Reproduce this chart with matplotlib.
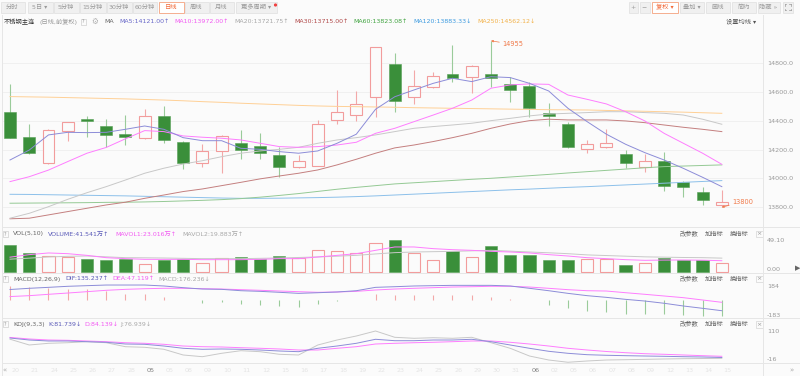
import numpy as np
import matplotlib.pyplot as plt
from matplotlib.patches import Rectangle, Circle

plt.rcParams['font.family'] = ['DejaVu Sans', 'Noto Sans CJK SC']
plt.rcParams['font.size'] = 4.5

W, H = 800, 376
BG = '#fbfbfb'

# ---- price data (daily candles) ----
opens = [14463, 14290, 14105, 14329, 14411, 14364, 14309, 14279, 14434, 14255,
         14110, 14191, 14248, 14228, 14165, 14078, 14089, 14406, 14438, 14563,
         14792, 14563, 14633, 14727, 14706, 14727, 14656, 14644, 14457, 14378,
         14205, 14216, 14172, 14078, 14123, 13978, 13904, 13816]
highs = [14653, 14376, 14340, 14395, 14434, 14413, 14440, 14482, 14503, 14258,
         14237, 14300, 14336, 14313, 14216, 14163, 14406, 14614, 14607, 14915,
         14869, 14753, 14737, 14926, 14785, 14955, 14706, 14672, 14522, 14390,
         14267, 14341, 14198, 14168, 14186, 13980, 13943, 13920]
lows = [14280, 14167, 14100, 14260, 14290, 14216, 14232, 14272, 14244, 14068,
        14078, 14040, 14133, 14133, 14012, 14071, 14085, 14376, 14399, 14427,
        14463, 14515, 14628, 14672, 14591, 14637, 14533, 14429, 14364, 14210,
        14175, 14214, 14071, 14043, 13915, 13874, 13816, 13800]
closes = [14283, 14175, 14336, 14390, 14401, 14302, 14288, 14434, 14267, 14110,
          14191, 14297, 14197, 14179, 14082, 14119, 14378, 14459, 14515, 14910,
          14536, 14644, 14711, 14699, 14783, 14695, 14614, 14491, 14434, 14216,
          14237, 14244, 14110, 14123, 13950, 13939, 13851, 13835]

ma5 = [14128, 14197, 14302, 14320, 14318, 14320, 14341, 14364, 14341, 14283,
       14262, 14262, 14209, 14202, 14186, 14175, 14191, 14244, 14307, 14480,
       14567, 14614, 14660, 14695, 14672, 14706, 14700, 14660, 14607, 14487,
       14394, 14307, 14237, 14179, 14128, 14070, 14008, 13943]
ma10 = [13978, 14012, 14058, 14117, 14175, 14215, 14275, 14332, 14325, 14295,
        14286, 14279, 14267, 14244, 14221, 14216, 14221, 14232, 14251, 14313,
        14348, 14394, 14440, 14487, 14544, 14626, 14649, 14656, 14653, 14579,
        14549, 14517, 14463, 14399, 14313, 14244, 14175, 14098]
ma20 = [13724, 13758, 13804, 13855, 13901, 13943, 13989, 14036, 14071, 14100,
        14123, 14151, 14175, 14191, 14202, 14216, 14244, 14267, 14283, 14302,
        14325, 14348, 14360, 14371, 14383, 14401, 14417, 14434, 14447, 14452,
        14457, 14463, 14463, 14457, 14452, 14440, 14411, 14376]
ma30 = [13720, 13724, 13747, 13770, 13793, 13816, 13835, 13862, 13885, 13909,
        13927, 13950, 13973, 13997, 14017, 14036, 14059, 14094, 14133, 14175,
        14212, 14232, 14256, 14283, 14313, 14348, 14378, 14401, 14411, 14406,
        14406, 14406, 14399, 14387, 14371, 14355, 14341, 14325]
ma60 = [13828, 13829, 13830, 13831, 13832, 13834, 13835, 13837, 13840, 13844,
        13848, 13853, 13860, 13870, 13882, 13895, 13910, 13925, 13938, 13950,
        13962, 13970, 13978, 13986, 13994, 14001, 14010, 14019, 14028, 14038,
        14047, 14056, 14065, 14074, 14082, 14086, 14090, 14094]
ma120 = [13890, 13889, 13887, 13885, 13883, 13881, 13879, 13876, 13873, 13870,
         13867, 13864, 13862, 13862, 13863, 13865, 13867, 13870, 13874, 13879,
         13885, 13891, 13897, 13903, 13909, 13915, 13921, 13926, 13932, 13938,
         13943, 13949, 13955, 13961, 13967, 13973, 13979, 13985]
ma250 = [14568, 14566, 14564, 14561, 14558, 14555, 14552, 14548, 14544, 14539,
         14533, 14528, 14522, 14517, 14512, 14507, 14503, 14500, 14498, 14496,
         14494, 14491, 14489, 14487, 14485, 14483, 14481, 14479, 14477, 14476,
         14475, 14472, 14469, 14466, 14463, 14460, 14456, 14452]

# ---- volume (万) ----
volume = [41.54, 29.5, 24.3, 23.3, 20.7, 19.1, 20.7, 12.9, 18.1, 20.7,
          14.5, 22.2, 23.3, 19.6, 24.8, 22.2, 34.6, 32.6, 30.0, 45.5,
          49.1, 30.0, 19.1, 32.0, 23.3, 40.3, 26.9, 25.8, 19.1, 19.1,
          20.7, 20.7, 10.3, 14.5, 21.7, 18.1, 18.1, 14.5]
mavol1 = [23.0, 26.9, 29.5, 28.4, 25.8, 22.2, 20.7, 19.6, 19.6, 19.6,
          19.1, 19.1, 19.1, 19.6, 20.7, 20.7, 23.3, 25.8, 28.4, 33.6,
          38.8, 38.8, 36.2, 34.6, 33.6, 32.0, 31.0, 29.5, 26.9, 24.8,
          22.2, 20.7, 19.1, 18.1, 18.5, 18.6, 18.3, 17.5]
mavol2 = [19.9, 21.5, 23.3, 24.3, 24.8, 23.5, 22.2, 22.0, 21.7, 21.2,
          20.7, 20.7, 20.7, 21.2, 21.7, 22.5, 23.3, 24.5, 25.8, 28.0,
          30.0, 31.0, 31.5, 32.0, 32.8, 33.6, 32.3, 31.0, 29.8, 28.4,
          26.5, 25.5, 24.5, 23.5, 23.0, 22.5, 22.2, 21.5]

# ---- MACD ----
dif = [135, 150, 162, 175, 183, 191, 191, 191, 179, 158,
       141, 137, 120, 112, 100, 87, 95, 104, 120, 162,
       170, 179, 183, 187, 187, 187, 179, 150, 120, 87,
       58, 37, 12, -9, -37, -71, -100, -130]
dea = [47, 58, 75, 91, 108, 125, 137, 145, 150, 150,
       145, 141, 133, 125, 116, 108, 100, 104, 112, 129,
       141, 150, 158, 166, 170, 175, 175, 166, 150, 133,
       120, 116, 95, 75, 54, 33, 4, -25]
macd_bar = [176, 167, 154, 146, 137, 112, 83, 83, 42, 8,
            -33, -25, -42, -54, -75, -83, -50, -4, 8, 83,
            62, 62, 71, 62, 62, 42, 21, 8, -54, -100,
            -130, -150, -165, -172, -170, -183, -193, -200]

# ---- KDJ ----
k_line = [81.7, 73.7, 69.7, 69.7, 66.9, 64.5, 57.6, 56.4, 49.5, 40.3,
          36.3, 37.5, 36.3, 33.4, 29.4, 26.6, 40.3, 49.5, 60.4, 76.6,
          70.9, 70.9, 73.7, 73.7, 76.6, 66.9, 53.6, 40.3, 28.2, 20.1,
          14.5, 12.1, 10.5, 9.2, 8.0, 6.4, 5.2, 3.2]
d_line = [84.1, 77.8, 73.7, 72.5, 69.7, 66.9, 62.8, 60.4, 56.4, 49.5,
          46.7, 45.5, 42.7, 40.3, 37.5, 33.4, 33.4, 40.3, 46.7, 57.6,
          60.4, 62.8, 64.5, 66.9, 69.7, 69.7, 64.5, 57.6, 49.5, 40.3,
          33.4, 27.4, 22.5, 18.5, 16.1, 13.3, 10.5, 8.0]
j_line = [76.9, 53.6, 60.4, 62.8, 66.9, 62.8, 46.7, 44.3, 36.3, 13.3,
          6.4, 20.1, 30.6, 26.6, 16.1, 13.3, 53.6, 73.7, 89.8, 110.0,
          84.6, 80.6, 82.9, 80.6, 84.6, 62.8, 40.3, 9.2, -6.9, -16.0,
          -10.9, -6.9, -5.7, -4.3, -2.8, -1.6, -0.9, -0.1]

date_labels = ['20', '21', '24', '25', '26', '27', '28', '05', '05', '08',
               '09', '10', '11', '12', '15', '16', '17', '18', '19', '22',
               '23', '24', '25', '26', '29', '30', '31', '06', '02', '05',
               '06', '07', '08', '09', '12', '13', '14', '15']
month_idx = [7, 27]

price_ticks = [13800, 14000, 14200, 14400, 14600, 14800]

# colours
UP = '#f29c9c'
UP_W = '#f3a8a8'
DN = '#3a8f3a'
DN_W = '#9acb9a'
C_MA5 = '#8c8cd8'
C_MA10 = '#ff7dff'
C_MA20 = '#c8c8c8'
C_MA30 = '#c47f7f'
C_MA60 = '#94c994'
C_MA120 = '#8cc0ea'
C_MA250 = '#ffd096'

fig = plt.figure(figsize=(8, 3.76), dpi=100, facecolor=BG)


def add_ax(x0, y0, x1, y1):
    ax = fig.add_axes([x0 / W, 1 - y1 / H, (x1 - x0) / W, (y1 - y0) / H])
    ax.set_facecolor('none')
    for s in ax.spines.values():
        s.set_visible(False)
    ax.set_xlim(-0.364, 39.14)
    ax.set_xticks([])
    ax.yaxis.tick_right()
    ax.tick_params(axis='y', length=0, pad=2.9, labelsize=4.6, labelcolor='#999999')
    return ax


x = np.arange(len(closes))
o = np.array(opens)
c = np.array(closes)
up = c >= o

# ---- main candle chart ----
ax = add_ax(3, 28, 763, 227)
ax.set_ylim(13663, 15044)
ax.set_yticks(price_ticks)
ax.set_yticklabels(['%.1f' % v for v in price_ticks])
ax.grid(axis='y', color='#efefef', lw=0.6)
ax.set_axisbelow(True)

ax.vlines(x[up], np.array(lows)[up], np.array(highs)[up], color=UP_W, lw=0.8, zorder=2)
ax.vlines(x[~up], np.array(lows)[~up], np.array(highs)[~up], color=DN_W, lw=0.8, zorder=2)
ax.bar(x[up], np.maximum(c - o, 2)[up], bottom=o[up], width=0.62,
       facecolor=BG, edgecolor=UP, linewidth=0.8, zorder=3)
ax.bar(x[~up], (o - c)[~up], bottom=c[~up], width=0.62,
       facecolor=DN, edgecolor='#55a055', linewidth=0.4, zorder=3)

for series, col in [(ma250, C_MA250), (ma120, C_MA120), (ma60, C_MA60), (ma30, C_MA30),
                    (ma20, C_MA20), (ma10, C_MA10), (ma5, C_MA5)]:
    ax.plot(x, series, color=col, lw=0.7, zorder=4)

ax.annotate('14955', xy=(25, 14955), xytext=(8, -2.5), textcoords='offset points',
            color='#f07a4a', fontsize=4.8, va='center', ha='left',
            arrowprops=dict(arrowstyle='-|>', color='#f07a4a', lw=0.5, mutation_scale=3,
                            shrinkA=0, shrinkB=0))
ax.annotate('13800', xy=(37, 13800), xytext=(7.3, 4), textcoords='offset points',
            color='#f07a4a', fontsize=4.8, va='center', ha='left',
            arrowprops=dict(arrowstyle='-|>', color='#f07a4a', lw=0.5, mutation_scale=3,
                            shrinkA=0, shrinkB=0))

# ---- volume ----
av = add_ax(3, 227, 763, 272.7)
av.set_ylim(-1.09, 69.75)
vol = np.array(volume)
av.bar(x[up], vol[up], width=0.64, facecolor=BG, edgecolor=UP, linewidth=0.8, zorder=2)
av.bar(x[~up], vol[~up], width=0.64, facecolor=DN, edgecolor='#55a055', linewidth=0.4, zorder=2)
av.plot(x, mavol2, color=C_MA20, lw=0.7, zorder=3)
av.plot(x, mavol1, color=C_MA10, lw=0.7, zorder=3)
av.set_yticks([0, 49.1])
av.set_yticklabels(['0.00', '49.10'])
av.get_yticklabels()[0].set_va('bottom')

# ---- MACD ----
am = add_ax(3, 272.7, 763, 318)
am.set_ylim(-221, 345)
mb = np.array(macd_bar)
am.vlines(x, 0, mb, colors=np.where(mb >= 0, UP_W, DN_W), lw=0.8, zorder=2)
am.plot(x, dea, color=C_MA10, lw=0.7, zorder=3)
am.plot(x, dif, color=C_MA5, lw=0.7, zorder=3)
am.set_yticks([184, -183])
am.set_yticklabels(['184', '-183'])

# ---- KDJ ----
ak = add_ax(3, 318, 763, 363)
ak.set_ylim(-19.0, 162.4)
ak.plot(x, j_line, color=C_MA20, lw=0.7)
ak.plot(x, d_line, color=C_MA10, lw=0.7)
ak.plot(x, k_line, color=C_MA5, lw=0.7)
ak.set_yticks([110, -16])
ak.set_yticklabels(['110', '-16'])
ak.get_yticklabels()[1].set_va('bottom')
ak.set_xticks(x + 0.3)
ak.set_xticklabels(date_labels)
ak.tick_params(axis='x', length=0, pad=3.4, labelsize=4.6)
for i, lab in enumerate(ak.get_xticklabels()):
    lab.set_color('#808080' if i in month_idx else '#e4e4e4')

# ---- overlay: toolbar, legends, separators ----
ov = fig.add_axes([0, 0, 1, 1])
ov.set_xlim(0, W)
ov.set_ylim(H, 0)
ov.axis('off')

for yy in [227, 272.7, 318, 363]:
    ov.plot([2, 800], [yy, yy], color='#e6e6e6', lw=0.7)
ov.plot([763, 763], [15, 376], color='#e6e6e6', lw=0.7)
ov.plot([2, 2], [15, 376], color='#e6e6e6', lw=0.7)

left_btns = [(0, 25, '分时'), (27, 53, '5日 ▾'), (53, 79, '5分钟'), (79, 106, '15分钟'),
             (106, 132, '30分钟'), (132, 157, '60分钟'), (158, 184, '日线'), (184, 209, '周线'),
             (209, 234, '月线'), (235, 277, '更多周期 ▾')]
right_btns = [(628, 638, '+'), (639, 650, '−'), (651, 678, '复权 ▾'), (679, 704, '叠加 ▾'),
              (705, 730, '画线'), (731, 756, '简约'), (757, 780, '隐藏 »'), (782, 793, '')]
for x0, x1, lab in left_btns + right_btns:
    sel = lab in ('日线', '复权 ▾')
    ov.add_patch(Rectangle((x0 + 0.5, 1.5), x1 - x0 - 1, 11.5,
                           fc='#ffffff' if sel else '#f0f0f0',
                           ec='#f4a27e' if sel else '#e3e3e3', lw=0.6))
    ov.text((x0 + x1) / 2, 7.3, lab, ha='center', va='center', fontsize=4.5,
            color='#f26b3a' if sel else '#9a9a9a')
ov.add_patch(Circle((275.5, 5), 0.9, color='#f04040'))
# fullscreen icon
for sx, sy in [(-1, -1), (1, -1), (-1, 1), (1, 1)]:
    cx, cy = 787.5 + sx * 3, 7.3 + sy * 3
    ov.plot([cx, cx - sx * 1.6], [cy, cy], color='#999999', lw=0.5)
    ov.plot([cx, cx], [cy, cy - sy * 1.6], color='#999999', lw=0.5)


def qbox(x0, y):
    ov.add_patch(Rectangle((x0, y - 3), 5, 6, fc='none', ec='#cfcfcf', lw=0.5))
    ov.text(x0 + 2.5, y, '?', ha='center', va='center', fontsize=3.6, color='#999999')


def txt(xp, y, s, col, **kw):
    ov.text(xp, y, s, ha='left', va='center', color=col, **kw)


# title / MA legend row
ly = 21.7
txt(4, ly, '不锈钢主连', '#333333')
txt(40, ly, '(日线,前复权)', '#999999')
qbox(80.5, ly)
txt(91.5, ly, '⚙', '#b0b0b0', fontsize=5.5)
txt(104, ly, 'MA', '#666666')
txt(119, ly, 'MA5:14121.00↑', '#6767c8')
txt(174, ly, 'MA10:13972.00↑', '#f25af2')
txt(234, ly, 'MA20:13721.75↑', '#a8a8a8')
txt(294, ly, 'MA30:13715.00↑', '#b04848')
txt(353, ly, 'MA60:13823.08↑', '#3fa33f')
txt(413, ly, 'MA120:13883.33↓', '#3d9be0')
txt(477, ly, 'MA250:14562.12↓', '#f2b24a')
txt(726, ly, '设置均线 ▾', '#555555')

# sub panel headers
for y, parts in [
    (234, [(13, 'VOL(5,10)', '#666666'), (48, 'VOLUME:41.541万↑', '#5a5ab8'),
           (115, 'MAVOL1:23.016万↑', '#f25af2'), (182, 'MAVOL2:19.883万↑', '#a8a8a8')]),
    (279, [(13, 'MACD(12,26,9)', '#666666'), (65, 'DIF:135.237↑', '#5a5ab8'),
           (112, 'DEA:47.119↑', '#f25af2'), (158, 'MACD:176.236↓', '#a8a8a8')]),
    (324.3, [(13, 'KDJ(9,3,3)', '#666666'), (48, 'K:81.739↓', '#5a5ab8'),
             (84, 'D:84.139↓', '#f25af2'), (120, 'J:76.939↓', '#a8a8a8')]),
]:
    qbox(3, y)
    for xp, s, col in parts:
        txt(xp, y, s, col)
    txt(680, y, '改参数', '#666666')
    txt(705, y, '加指标', '#666666')
    txt(730, y, '换指标', '#666666')
    ov.add_patch(Rectangle((756, y - 3.2), 6.5, 6.4, fc='none', ec='#d5d5d5', lw=0.5))
    ov.text(759.25, y, '×', ha='center', va='center', fontsize=4.5, color='#999999')

ov.text(5, 370, '«', ha='center', va='center', fontsize=5, color='#aaaaaa')
ov.text(791, 370, '»', ha='center', va='center', fontsize=5, color='#aaaaaa')
ov.text(798, 268, '▶', ha='center', va='center', fontsize=5, color='#666666')

fig.savefig('out.png', dpi=100, facecolor=BG)
